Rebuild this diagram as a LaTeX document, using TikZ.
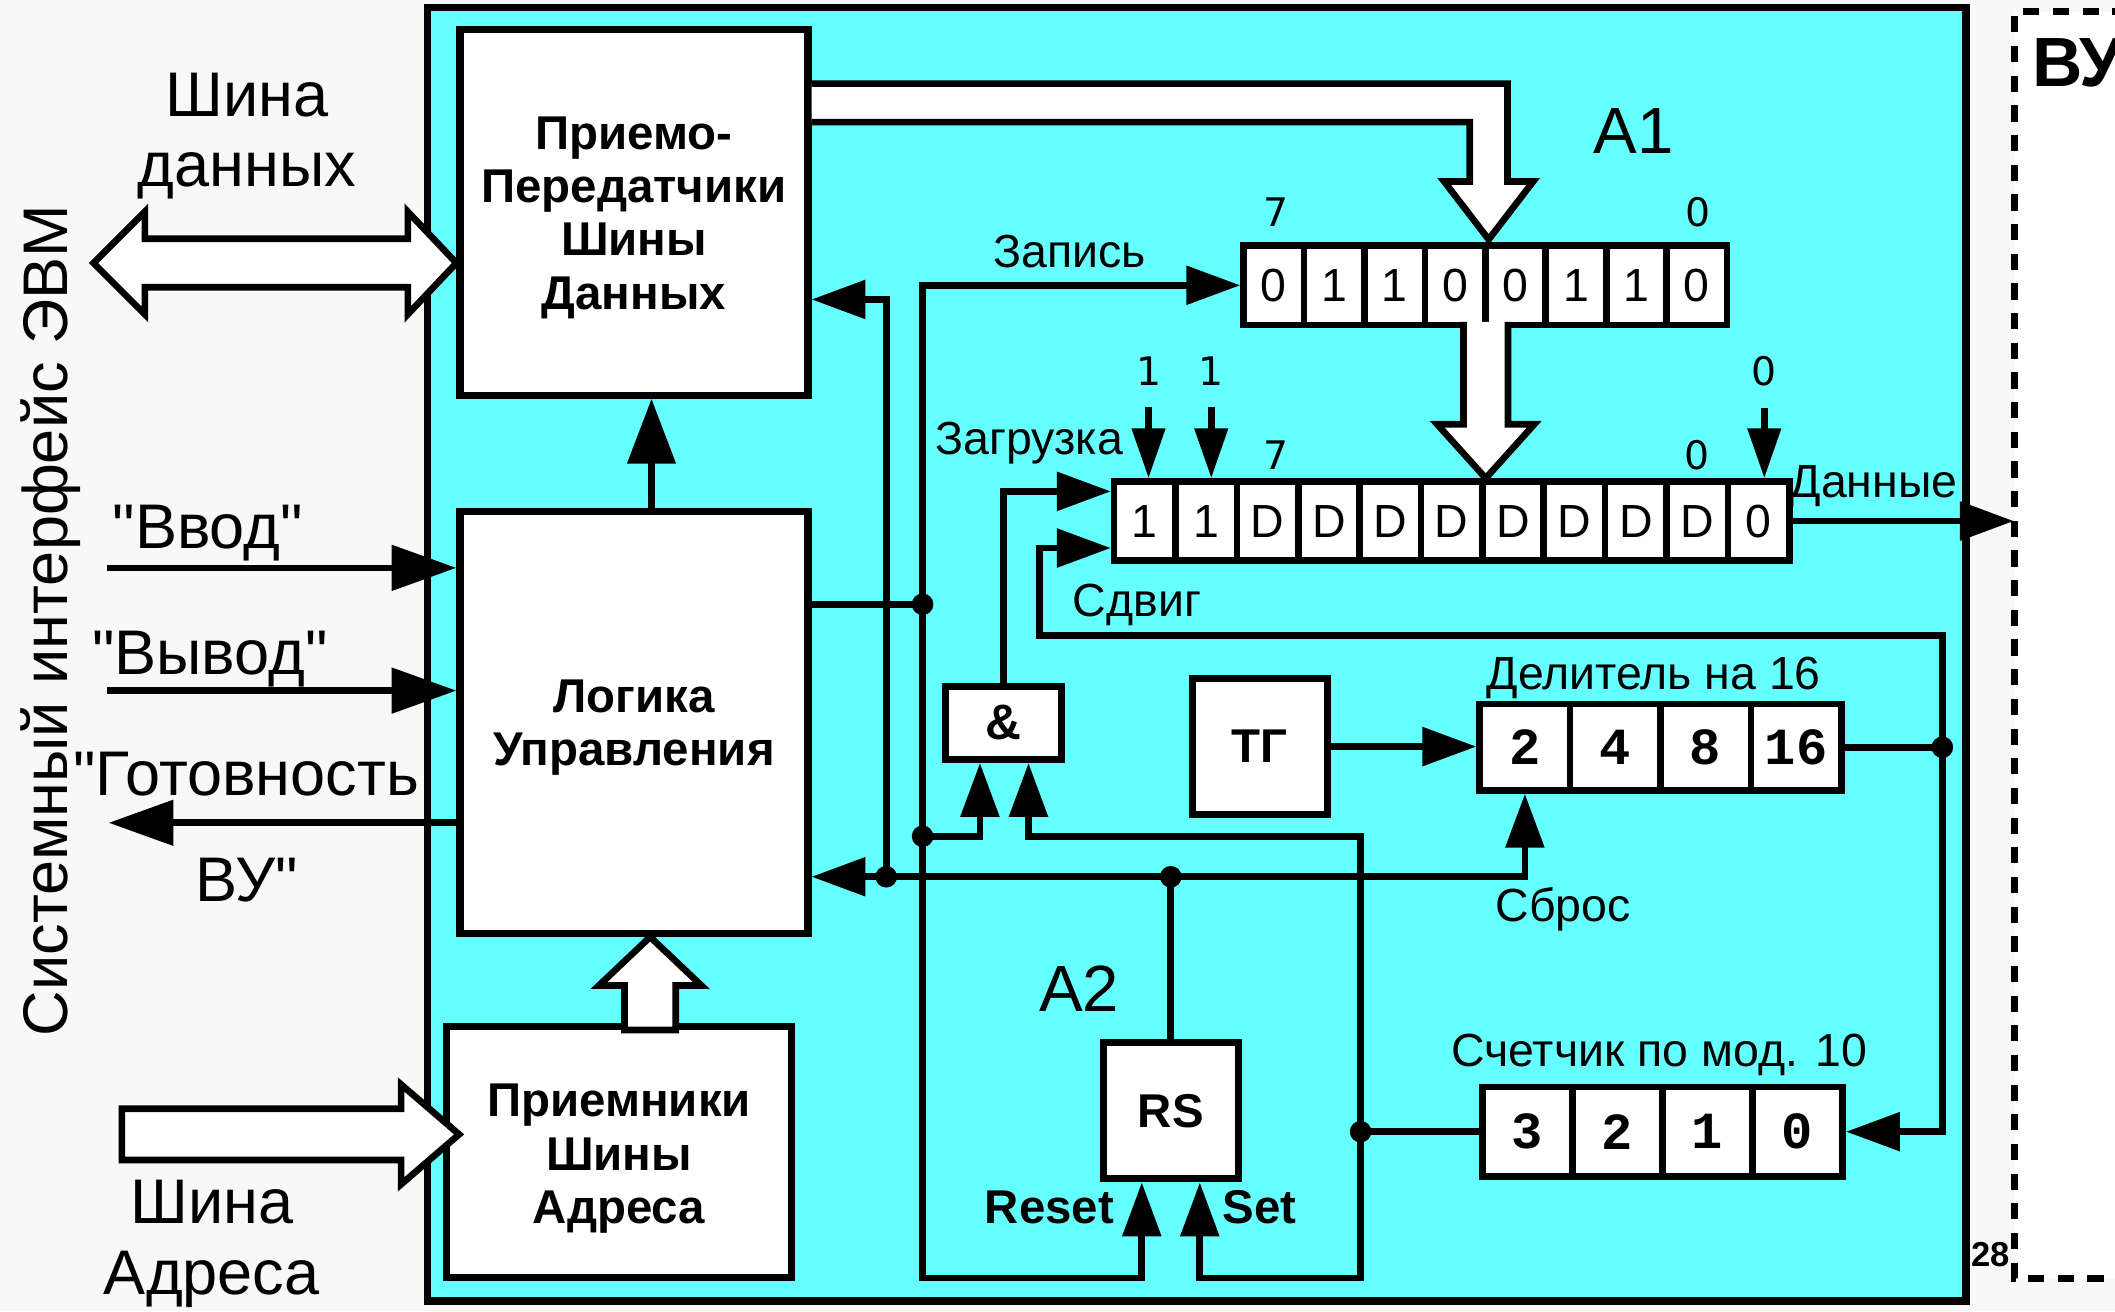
\documentclass[tikz,border=0pt]{standalone}
\usepackage{fontspec}
\setmainfont{Liberation Sans}[Ligatures=TeXOff]
\newfontfamily\monofam{Liberation Mono}
\newfontfamily\dvfam{DejaVu Sans}
\usetikzlibrary{arrows.meta,calc}
\definecolor{bgc}{HTML}{F8F8F8}
\definecolor{cy}{HTML}{66FFFF}
\tikzset{
  ln/.style={line width=1.4pt},
  bigarr/.style={-{Triangle[length=4.8mm,width=3.3mm]}},
  medarr/.style={-{Triangle[length=4mm,width=2.8mm]}},
  smallarr/.style={-{Triangle[length=3.7mm,width=2.4mm]}},
  blk/.style={draw, line width=1.5pt, fill=white, inner sep=0pt},
  hollow/.style={draw, line width=1.4pt, fill=white, line join=miter},
  jdot/.style={circle, fill=black, inner sep=0pt, minimum size=1.6mm},
  bigtxt/.style={font=\fontsize{13.3}{16}\selectfont, inner sep=0pt},
  medtxt/.style={font=\fontsize{9.8}{12}\selectfont, inner sep=0pt},
  lbltxt/.style={font=\dvfam\fontsize{8.3}{10}\selectfont, inner sep=0pt},
  bx/.style={font=\bfseries\fontsize{10}{11.2}\selectfont, align=center, inner sep=0pt},
  cellA/.style={blk, line width=1.4pt, minimum width=4.48mm, minimum height=5.9mm, font=\fontsize{9.8}{11}\selectfont},
  cellB/.style={blk, line width=1.4pt, minimum width=4.55mm, minimum height=5.86mm, font=\fontsize{9.8}{11}\selectfont},
  cellC/.style={blk, line width=1.4pt, minimum width=6.7mm, font=\monofam\bfseries\fontsize{11}{12}\selectfont},
}
\begin{document}
\begin{tikzpicture}[x=0.1mm,y=-0.1mm]
\useasboundingbox (0,0) rectangle (1568,972);
\fill[bgc] (0,0) rectangle (1568,972);

% dashed VU box (cut by the right edge, as in the reference)
\begin{scope}
  \clip (0,0) rectangle (1568,972);
  \fill[white] (1493.5,8.6) rectangle (1600,948);
  \draw[line width=1.4pt, dash pattern=on 1.2mm off 1mm] (1600,8.6) -- (1493.5,8.6) -- (1493.5,948) -- (1600,948);
  \node[anchor=base west, inner sep=0pt, font=\bfseries\fontsize{14.7}{17}\selectfont] (vu) at (1506,64) {ВУ};
\end{scope}
\node[anchor=base, inner sep=0pt, font=\bfseries\fontsize{7.3}{9}\selectfont] (n28) at (1476,939) {28};

% main cyan block
\node[draw, line width=1.6pt, fill=cy, inner sep=0pt, minimum width=114.06mm, minimum height=95.9mm] (main) at (887.3,485) {};

% left side texts
\node[rotate=90, anchor=base, inner sep=0pt, font=\fontsize{13.3}{16}\selectfont] (sys) at (50,460) {Системный интерфейс ЭВМ};
\node[bigtxt, anchor=base] (tdb1) at (183,86.5) {Шина};
\node[bigtxt, anchor=base] (tdb2) at (183,138.4) {данных};
\node[bigtxt, anchor=base] (tvvod) at (154,407) {"Ввод"};
\node[bigtxt, anchor=base] (tvyvod) at (155.5,500) {"Вывод"};
\node[bigtxt, anchor=base] (tgot1) at (182.5,590) {"Готовность};
\node[bigtxt, anchor=base] (tgot2) at (183,668) {ВУ"};
\node[bigtxt, anchor=base] (tab1) at (157,907) {Шина};
\node[bigtxt, anchor=base] (tab2) at (157,960) {Адреса};

% main blocks
\node[blk, minimum width=25.8mm, minimum height=27.1mm] (trx) at (470,157.5) {};
\node[bx] (trxT) at ($(trx.center)+(0,4)$) {Приемо-\\Передатчики\\Шины\\Данных};
\node[blk, minimum width=25.8mm, minimum height=31.3mm] (logic) at (470,535.5) {};
\node[bx] (logicT) at ($(logic.center)+(0,4)$) {Логика\\Управления};
\node[blk, minimum width=25.6mm, minimum height=18.6mm] (rcv) at (459,854) {};
\node[bx] (rcvT) at ($(rcv.center)+(0,5)$) {Приемники\\Шины\\Адреса};

\node[blk, font=\bfseries\fontsize{10}{12}\selectfont, minimum width=10mm, minimum height=10.1mm] (tg) at (934,553.5) {ТГ};
\node[blk, font=\bfseries\fontsize{10.5}{12}\selectfont, minimum width=8.6mm, minimum height=5.4mm] (and) at (744,536) {\&};
\node[blk, font=\bfseries\fontsize{10}{12}\selectfont, minimum width=10mm, minimum height=10.1mm] (rs) at (868,823.5) {RS};

% registers
\foreach \v [count=\i] in {0,1,1,0,0,1,1,0}
  \node[cellA] (a\i) at ({922+44.8*(\i-0.5)},211.5) {\v};
\foreach \v [count=\i] in {1,1,D,D,D,D,D,D,D,D,0}
  \node[cellB] (b\i) at ({826+45.5*(\i-0.5)},386.3) {\v};
\foreach \v [count=\i] in {2,4,8,16}
  \node[cellC, minimum height=6.4mm] (d\i) at ({1097+67*(\i-0.5)},554) {\v};
\foreach \v [count=\i] in {3,2,1,0}
  \node[cellC, minimum height=6.6mm] (c\i) at ({1099+66.75*(\i-0.5)},839) {\v};

% labels
\node[bigtxt, anchor=base, font=\fontsize{13.8}{16}\selectfont] (tA1) at (1211,114) {A1};
\node[bigtxt, anchor=base, font=\fontsize{13.8}{16}\selectfont] (tA2) at (800,750) {A2};
\node[medtxt, anchor=base] (tzap) at (793,198) {Запись};
\node[medtxt, anchor=base] (tzag) at (763,337) {Загрузка};
\node[medtxt, anchor=base] (tdan) at (1389,369) {Данные};
\node[medtxt, anchor=base] (tsdv) at (843,457) {Сдвиг};
\node[medtxt, anchor=base] (tsbr) at (1159,683) {Сброс};
\node[medtxt, anchor=base] (tdel) at (1226,511) {Делитель на 16};
\node[medtxt, anchor=base] (tcnt) at (1230,791) {Счетчик по мод. 10};
\node[anchor=base, inner sep=0pt, font=\bfseries\fontsize{10}{12}\selectfont] (treset) at (778,907) {Reset};
\node[anchor=base, inner sep=0pt, font=\bfseries\fontsize{10}{12}\selectfont] (tset) at (934,907) {Set};
\node[lbltxt, anchor=base] (l7a) at (946,168) {7};
\node[lbltxt, anchor=base] (l0a) at (1259,168) {0};
\node[lbltxt, anchor=base] (l7b) at (946,348) {7};
\node[lbltxt, anchor=base] (l0b) at (1258,348) {0};
\node[lbltxt, anchor=base] (lb1) at (851.5,286) {1};
\node[lbltxt, anchor=base] (lb2) at (898,286) {1};
\node[lbltxt, anchor=base] (lb11) at (1308,286) {0};

% hollow bus arrows
\coordinate (dbt) at (trx.west |- 0,195);
\begin{scope}[shift={(dbt)}]
  \draw[hollow] (0,0) -- (-36,-38) -- (-36,-18) -- (-231,-18) -- (-231,-38) -- (-269,0)
     -- (-231,38) -- (-231,18) -- (-36,18) -- (-36,38) -- cycle;
\end{scope}
\coordinate (abt) at ($(rcv.west)+(12,-13)$);
\begin{scope}[shift={(abt)}]
  \draw[hollow] (0,0) -- (-43,-37) -- (-43,-19) -- (-250,-19) -- (-250,19) -- (-43,19) -- (-43,37) -- cycle;
\end{scope}
\coordinate (upt) at ($(logic.south)+(12,0)$);
\begin{scope}[shift={(upt)}]
  \draw[hollow] (0,0) -- (38,36) -- (19,36) -- (19,69) -- (-19,69) -- (-19,36) -- (-38,36) -- cycle;
\end{scope}
\coordinate (tAt) at ($(a4.north east)+(0,-2)$);
\begin{scope}[shift={(tAt)}]
  \draw[hollow] (trx.east |- 0,-115.5) -- (14,-115.5) -- (14,-43) -- (33,-43) -- (0,0)
     -- (-33,-43) -- (-14,-43) -- (-14,-87) -- (trx.east |- 0,-87);
\end{scope}
\coordinate (tBt) at (b6.north east);
\begin{scope}[shift={(tBt)}]
  \draw[hollow] (-16.5,-116) -- (-16.5,-40) -- (-36,-40) -- (0,0)
     -- (36,-40) -- (16.5,-40) -- (16.5,-116);
\end{scope}

% control lines
\coordinate (p1) at ($(logic.north)+(13,0)$);
\draw[ln, -{Triangle[length=4.8mm,width=3.5mm]}] (p1) -- (p1 |- trx.south);

\coordinate (in1) at (79.5,421);
\coordinate (in2) at (79.5,512);
\coordinate (out1) at (80.6,610);
\draw[ln, bigarr] (in1) -- (in1 -| logic.west);
\draw[ln, bigarr] (in2) -- (in2 -| logic.west);
\draw[ln, bigarr] (out1 -| logic.west) -- (out1);

\coordinate (jZ) at (684,448);
\coordinate (jA) at (684,620);
\coordinate (bl) at (684,947.5);
\coordinate (jC) at (1008.7,839);
\coordinate (jR) at (868,650);
\coordinate (jD) at (657,650);
\coordinate (jE) at (1440,554);
\coordinate (sh1) at (770.7,471);
\coordinate (rsR) at ($(rs.south)+(-21.5,0)$);
\coordinate (rsS) at ($(rs.south)+(21.5,0)$);
\coordinate (andA) at ($(and.south)+(-17.5,0)$);
\coordinate (andB) at ($(and.south)+(18.5,0)$);
\coordinate (trxIn) at ($(trx.east)+(0,64.5)$);
\coordinate (shIn) at ($(b1.west)+(0,20)$);
\coordinate (ldIn) at ($(b1.west)+(0,-22)$);
\coordinate (dOut) at (1493,387);

\draw[ln] (jZ -| logic.east) -- (jZ);
\draw[ln, medarr] (jZ) |- (a1.west);
\draw[ln, medarr] (jZ) -- (bl) -| (rsR);
\draw[ln, medarr] (jA) -| (andA);
\draw[ln] (c1.west) -- (jC);
\draw[ln, medarr] (jC) -- (jC |- jA) -| (andB);
\draw[ln, medarr] (jC) -- (jC |- bl) -| (rsS);
\draw[ln, medarr] (rs.north) -- (jR) -- (jR -| logic.east);
\draw[ln, medarr] (jR) -| (d1.south);
\draw[ln, medarr] (jD) |- (trxIn);
\draw[ln, medarr] (tg.east) -- (tg.east -| d1.west);
\draw[ln] (d4.east) -- (jE);
\draw[ln, medarr] (jE) |- (sh1) |- (shIn);
\draw[ln, medarr] (jE) |- (c4.east);
\draw[ln, medarr] (and.north) |- (ldIn);
\draw[ln, medarr] (b11.east) -- (b11.east -| dOut);
\draw[ln, smallarr, shorten <=1.5mm] (lb1.south) -- (lb1.south |- b1.north);
\draw[ln, smallarr, shorten <=1.5mm] (lb2.south) -- (lb2.south |- b2.north);
\draw[ln, smallarr, shorten <=1.5mm] (lb11.south) -- (lb11.south |- b11.north);

% junction dots
\node[jdot] (dZ) at (jZ) {};
\node[jdot] (dA) at (jA) {};
\node[jdot] (dC) at (jC) {};
\node[jdot] (dR) at (jR) {};
\node[jdot] (dD) at (jD) {};
\node[jdot] (dE) at (jE) {};
\end{tikzpicture}
\end{document}
